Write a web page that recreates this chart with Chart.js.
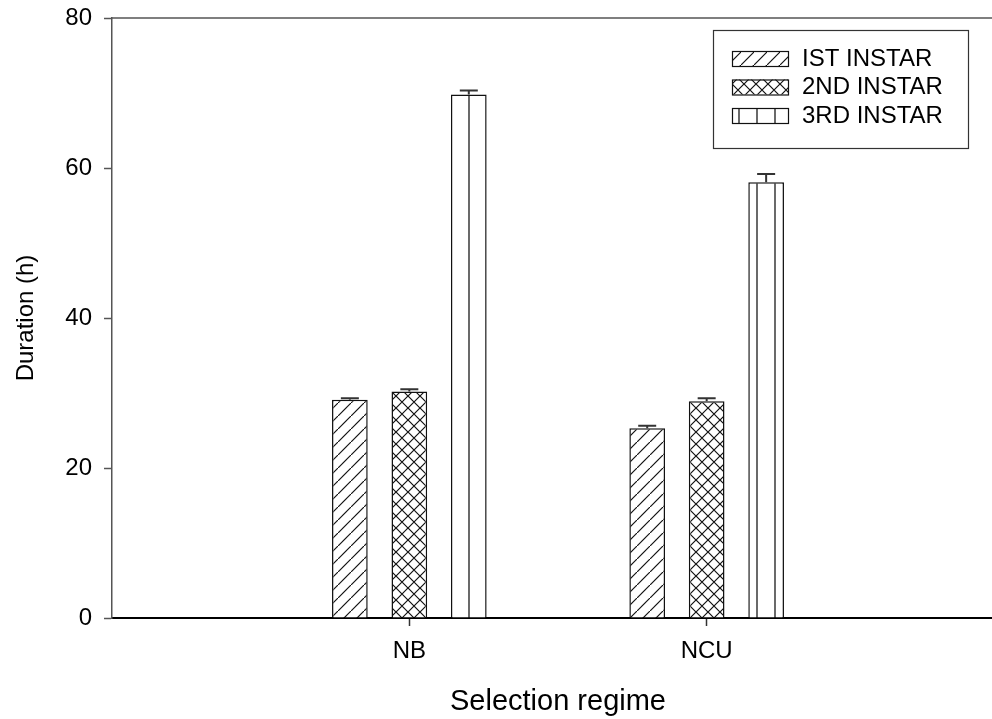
<!DOCTYPE html>
<html>
<head>
<meta charset="utf-8">
<script src="https://cdn.jsdelivr.net/npm/chart.js@4.4.0/dist/chart.umd.min.js"></script>
<style>
  html, body { margin: 0; padding: 0; background: #fff; overflow: hidden; }
  #wrap { width: 992px; height: 719px; overflow: hidden; }
</style>
</head>
<body>
<div id="wrap"><canvas id="myChart" width="1004" height="719"></canvas></div>
<script>
var regimes = ["NB", "NCU"];
var seriesNames = ["IST INSTAR", "2ND INSTAR", "3RD INSTAR"];
var firstInstar = [29.1, 25.3];
var secondInstar = [30.2, 28.9];
var thirdInstar = [69.8, 58.1];
var firstErr = [0.2, 0.35];
var secondErr = [0.3, 0.4];
var thirdErr = [0.55, 1.1];
var yTicks = [0, 20, 40, 60, 80];

var FONT = "'Liberation Sans', Arial, sans-serif";
var canvas = document.getElementById("myChart");
var ctx = canvas.getContext("2d");

// hatch fills, tiled from the canvas origin
function makePattern(kind) {
  var size = kind === "vert" ? 18 : (kind === "cross" ? 12 : 13);
  var c = document.createElement("canvas");
  c.width = size;
  c.height = size;
  var g = c.getContext("2d");
  g.fillStyle = "#fff";
  g.fillRect(0, 0, size, size);
  g.strokeStyle = "#111";
  g.lineWidth = 1.2;
  g.beginPath();
  if (kind === "diag" || kind === "cross") {
    g.moveTo(-1, size + 1);
    g.lineTo(size + 1, -1);
  }
  if (kind === "cross") {
    g.moveTo(-1, -1);
    g.lineTo(size + 1, size + 1);
  }
  if (kind === "vert") {
    g.lineWidth = 1.6;
    g.strokeStyle = "#444";
    g.moveTo(1, 0);
    g.lineTo(1, size);
  }
  g.stroke();
  return ctx.createPattern(c, "repeat");
}

var fills = [makePattern("diag"), makePattern("cross"), makePattern("vert")];

function points(values) {
  return regimes.map(function(r, i) {
    return { x: i + 1, y: values[i] };
  });
}

var extras = {
  id: "extras",
  afterDatasetsDraw: function(chart) {
    var c = chart.ctx;
    var area = chart.chartArea;
    var y = chart.scales.y;
    c.save();
    // top frame line
    c.strokeStyle = "#555";
    c.lineWidth = 1.5;
    c.beginPath();
    c.moveTo(area.left, area.top);
    c.lineTo(area.right, area.top);
    c.stroke();
    // upper error bars
    c.strokeStyle = "#333";
    c.lineWidth = 2;
    chart.data.datasets.forEach(function(ds, i) {
      var meta = chart.getDatasetMeta(i);
      meta.data.forEach(function(bar, j) {
        var top = y.getPixelForValue(ds.data[j].y + ds.errors[j]);
        c.beginPath();
        c.moveTo(bar.x, bar.y);
        c.lineTo(bar.x, top);
        c.moveTo(bar.x - 9, top);
        c.lineTo(bar.x + 9, top);
        c.stroke();
      });
    });
    c.restore();
  },
  afterDraw: function(chart) {
    var c = chart.ctx;
    c.save();
    c.strokeStyle = "#333";
    c.lineWidth = 1.2;
    c.strokeRect(713.5, 30.5, 255, 118);
    c.font = "24px " + FONT;
    c.textBaseline = "middle";
    chart.data.datasets.forEach(function(ds, i) {
      var top = 51 + i * 28.5;
      c.fillStyle = ds.backgroundColor;
      c.fillRect(732, top, 56, 15);
      c.strokeStyle = "#111";
      c.lineWidth = 1.2;
      c.strokeRect(732.5, top + 0.5, 56, 15);
      c.fillStyle = "#000";
      c.fillText(ds.label, 802, top + 8);
    });
    c.restore();
  }
};

new Chart(canvas, {
  type: "bar",
  data: {
    datasets: [
      { label: seriesNames[0], data: points(firstInstar), errors: firstErr, backgroundColor: fills[0] },
      { label: seriesNames[1], data: points(secondInstar), errors: secondErr, backgroundColor: fills[1] },
      { label: seriesNames[2], data: points(thirdInstar), errors: thirdErr, backgroundColor: fills[2] }
    ]
  },
  options: {
    responsive: false,
    animation: false,
    layout: { padding: { top: 18, left: 0, right: 0, bottom: 0 } },
    datasets: {
      bar: {
        categoryPercentage: 0.6,
        barPercentage: 0.6,
        borderColor: "#111",
        borderWidth: 1.5
      }
    },
    plugins: {
      legend: { display: false },
      tooltip: { enabled: false }
    },
    scales: {
      x: {
        type: "linear",
        min: 0,
        max: 3,
        offset: false,
        afterBuildTicks: function(axis) {
          axis.ticks = regimes.map(function(r, i) { return { value: i + 1 }; });
        },
        afterFit: function(axis) { axis.height = 101; },
        ticks: {
          callback: function(v) { return regimes[v - 1]; },
          font: { size: 24, family: FONT },
          color: "#000",
          padding: 11,
          maxRotation: 0
        },
        grid: { offset: false, drawOnChartArea: false, drawTicks: true, tickLength: 8, tickColor: "#333", tickWidth: 1.5 },
        border: { color: "#000", width: 2 },
        title: {
          display: true,
          text: "Selection regime",
          font: { size: 29, family: FONT },
          color: "#000",
          padding: { top: 0, bottom: 0 }
        }
      },
      y: {
        min: 0,
        max: 80,
        afterBuildTicks: function(axis) {
          axis.ticks = yTicks.map(function(v) { return { value: v }; });
        },
        afterFit: function(axis) {
          axis.width = 112;
          axis.paddingTop = 0;
          axis.paddingBottom = 0;
        },
        ticks: {
          font: { size: 24, family: FONT },
          color: "#000",
          padding: 12
        },
        grid: { drawOnChartArea: false, drawTicks: true, tickLength: 8, tickColor: "#555", tickWidth: 1.5 },
        border: { color: "#555", width: 1.5 },
        title: {
          display: true,
          text: "Duration (h)",
          font: { size: 24, family: FONT },
          color: "#000",
          padding: { top: 12, bottom: 0 }
        }
      }
    }
  },
  plugins: [extras]
});
</script>
</body>
</html>
